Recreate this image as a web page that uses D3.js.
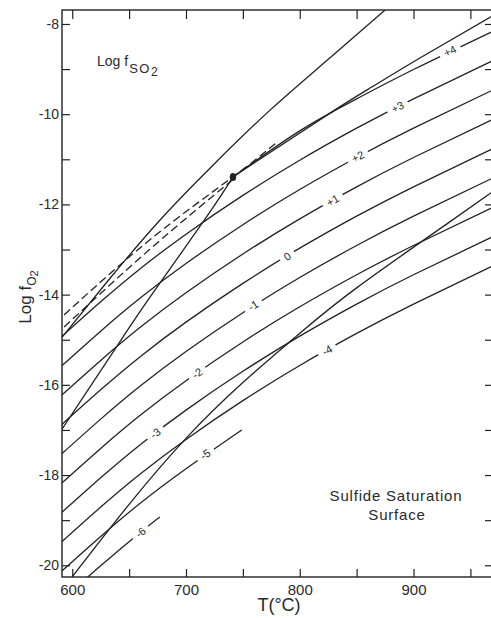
<!DOCTYPE html>
<html><head><meta charset="utf-8">
<script src="https://cdn.jsdelivr.net/npm/d3@7"></script>
<style>
html,body{margin:0;padding:0;background:#fff;}
svg{display:block;}
text{font-family:"Liberation Sans",Arial,sans-serif;fill:#2a2a2a;}
</style></head><body>
<svg id="chart" width="491" height="618"></svg>
<script>
// ---- axis ticks ----
const tempTicks = [600,650,700,750,800,850,900,950];
const tempTickLabels = [600,700,800,900];
const fo2Ticks = [-8,-9,-10,-11,-12,-13,-14,-15,-16,-17,-18,-19,-20];
const fo2TickLabels = [-8,-10,-12,-14,-16,-18,-20];

// ---- log fSO2 contours on the sulfide saturation surface: [T(°C), log fO2] ----
const contourP4 = [[741.3,-11.39],[800,-10.37],[850,-9.66],[900,-9.01],[975,-8.10]];
const contourP3 = [[585,-15.06],[625,-14.16],[660,-13.42],[700,-12.66],[750,-11.80],[800,-11.02],[850,-10.31],[900,-9.66],[975,-8.75]];
const contourP2 = [[585,-15.71],[625,-14.81],[660,-14.07],[700,-13.31],[750,-12.45],[800,-11.67],[850,-10.96],[900,-10.31],[975,-9.40]];
const contourP1 = [[585,-16.36],[625,-15.46],[660,-14.72],[700,-13.96],[750,-13.10],[800,-12.32],[850,-11.61],[900,-10.96],[975,-10.05]];
const contour0  = [[585,-17.01],[625,-16.11],[660,-15.37],[700,-14.61],[750,-13.75],[800,-12.97],[850,-12.26],[900,-11.61],[975,-10.70]];
const contourM1 = [[585,-17.66],[625,-16.76],[660,-16.02],[700,-15.26],[750,-14.40],[800,-13.62],[850,-12.91],[900,-12.26],[975,-11.35]];
const contourM2 = [[585,-18.31],[625,-17.41],[660,-16.67],[700,-15.91],[750,-15.05],[800,-14.27],[850,-13.56],[900,-12.91],[975,-12.00]];
const contourM3 = [[585,-18.96],[625,-18.06],[660,-17.32],[700,-16.56],[750,-15.70],[800,-14.92],[850,-14.21],[900,-13.56],[975,-12.65]];
const contourM4 = [[585,-19.61],[625,-18.71],[660,-17.97],[700,-17.21],[750,-16.35],[800,-15.57],[850,-14.86],[900,-14.21],[975,-13.30]];
const contourM5 = [[585,-20.26],[625,-19.36],[660,-18.62],[700,-17.86],[749,-17.00]];
const contourM6 = [[612,-20.30],[625,-20.01],[660,-19.27],[677,-18.93]];

const contourLabels = ["+4","+3","+2","+1","0","-1","-2","-3","-4","-5","-6"];
const labelT = [932, 886, 851, 829, 789, 759, 710, 673, 824, 717, 660];
const labelV = [-8.60, -9.84, -10.94, -11.91, -13.15, -14.24, -15.74, -17.07, -15.23, -17.54, -19.27];

// ---- other boundaries ----
const upperCurve = [[585,-15.13],[630.5,-13.72],[677,-12.35],[723.7,-11.13],[773.9,-9.91],[826.6,-8.75],[875,-7.69],[890,-7.38]];
const boundaryL1 = [[741.3,-11.39],[827,-9.97],[860,-9.45],[906,-8.75],[975,-7.74]];
const boundaryT1 = [[585,-17.21],[644.6,-14.94],[671,-13.96],[718.5,-12.26],[741.3,-11.39]];
const dashedD1 = [[585,-14.63],[668,-12.79],[741.3,-11.39],[780,-10.62]];
const dashedD2 = [[585,-14.90],[668,-13.00],[741.3,-11.45]];
const boundaryS2 = [[598,-20.32],[650,-18.65],[701,-17.16],[750,-15.95],[798,-14.90],[850,-13.85],[930,-12.42],[966,-11.78],[975,-11.62]];
const invariantPoint = [741.3,-11.39];

// ---- drawing ----
const svg = d3.select("#chart");
const x = d3.scaleLinear().domain([591,969]).range([62,492]);
const y = d3.scaleLinear().domain([-20.26,-7.69]).range([577,10]);
const ink = "#222";

svg.append("defs").append("clipPath").attr("id","clip")
  .append("rect").attr("x",62).attr("y",10).attr("width",430).attr("height",567);

const plot = svg.append("g").attr("clip-path","url(#clip)");
const line = d3.line().x(d=>x(d[0])).y(d=>y(d[1])).curve(d3.curveNatural);
const sorted = a => a.slice().sort((p,q)=>p[0]-q[0]);

const contours = [contourP4,contourP3,contourP2,contourP1,contour0,contourM1,contourM2,contourM3,contourM4,contourM5,contourM6];
const solidLines = contours.concat([upperCurve, boundaryL1, boundaryT1, boundaryS2]);
plot.selectAll("path.solid").data(solidLines).join("path")
  .attr("class","solid").attr("d",d=>line(sorted(d)))
  .attr("fill","none").attr("stroke",ink).attr("stroke-width",1.3);
plot.selectAll("path.dash").data([dashedD1,dashedD2]).join("path")
  .attr("class","dash").attr("d",d=>line(sorted(d)))
  .attr("fill","none").attr("stroke",ink).attr("stroke-width",1.3)
  .attr("stroke-dasharray","8,4");

plot.append("ellipse").attr("cx",x(invariantPoint[0])).attr("cy",y(invariantPoint[1]))
  .attr("rx",3.2).attr("ry",4).attr("fill",ink);

// contour labels sitting in gaps of their lines
const labelG = plot.append("g");
contourLabels.forEach((lab,i)=>{
  const T = labelT[i], v = labelV[i];
  const pts = sorted(contours[i]);
  let ang = 0;
  for (let j=0;j<pts.length-1;j++){
    if (T>=pts[j][0] && T<=pts[j+1][0]){
      const dx = x(pts[j+1][0])-x(pts[j][0]);
      const dy = y(pts[j+1][1])-y(pts[j][1]);
      ang = Math.atan2(dy,dx)*180/Math.PI;
    }
  }
  const g = labelG.append("g").attr("transform",`translate(${x(T)},${y(v)}) rotate(${ang})`);
  const t = g.append("text").attr("text-anchor","middle").attr("dy","0.36em")
    .style("font-size","11px").text(lab);
  const bb = t.node().getBBox();
  g.insert("rect","text").attr("x",bb.x-5).attr("y",-3.5)
    .attr("width",bb.width+10).attr("height",7).attr("fill","#fff");
});

// ---- axes ----
function styleAxis(g){
  g.select(".domain").remove();
  g.selectAll(".tick line").attr("stroke",ink).attr("stroke-width",1.2);
  g.selectAll(".tick text").attr("fill","#2a2a2a");
}
svg.append("g").attr("transform","translate(62,0)")
  .call(d3.axisLeft(y).tickValues(fo2Ticks).tickSizeInner(-8).tickSizeOuter(0).tickPadding(3)
    .tickFormat(d=>fo2TickLabels.includes(d)?String(d):""))
  .call(styleAxis)
  .call(g=>g.selectAll(".tick text").style("font-size","14px").style("font-family","Liberation Sans, Arial, sans-serif"));
svg.append("g").attr("transform","translate(0,577)")
  .call(d3.axisBottom(x).tickValues(tempTicks).tickSizeInner(-8).tickSizeOuter(0).tickPadding(7)
    .tickFormat(d=>tempTickLabels.includes(d)?String(d):""))
  .call(styleAxis)
  .call(g=>g.selectAll(".tick text").style("font-size","15px").style("font-family","Liberation Sans, Arial, sans-serif"));
svg.append("g").attr("transform","translate(0,10)")
  .call(d3.axisTop(x).tickValues(tempTicks).tickSizeInner(-9).tickSizeOuter(0).tickFormat(""))
  .call(styleAxis);
svg.append("g").attr("transform","translate(492,0)")
  .call(d3.axisRight(y).tickValues(fo2Ticks).tickSizeInner(-7).tickSizeOuter(0).tickFormat(""))
  .call(styleAxis);

// frame
svg.append("rect").attr("x",62).attr("y",10).attr("width",430).attr("height",567)
  .attr("fill","none").attr("stroke",ink).attr("stroke-width",1.4);

// ---- titles and annotations ----
const yt = svg.append("text").attr("transform","translate(31,297) rotate(-90)")
  .attr("text-anchor","middle").style("font-size","17px");
yt.append("tspan").text("Log f");
yt.append("tspan").attr("dy",5).style("font-size","12px").text("O");
yt.append("tspan").attr("dy",2).style("font-size","11px").text("2");

svg.append("text").attr("x",279).attr("y",611).attr("text-anchor","middle")
  .style("font-size","18px").text("T(°C)");

const so2 = svg.append("text").attr("x",97).attr("y",66).style("font-size","14px");
so2.append("tspan").text("Log f");
so2.append("tspan").attr("dy",7).attr("dx",1).style("font-size","13px").style("letter-spacing","1.5px").text("SO");
so2.append("tspan").attr("dy",3).style("font-size","12px").text("2");

svg.append("text").attr("x",396).attr("y",501).attr("text-anchor","middle")
  .style("font-size","15px").style("letter-spacing","0.8px").text("Sulfide Saturation");
svg.append("text").attr("x",397).attr("y",520).attr("text-anchor","middle")
  .style("font-size","15px").style("letter-spacing","0.8px").text("Surface");
</script>
</body></html>
